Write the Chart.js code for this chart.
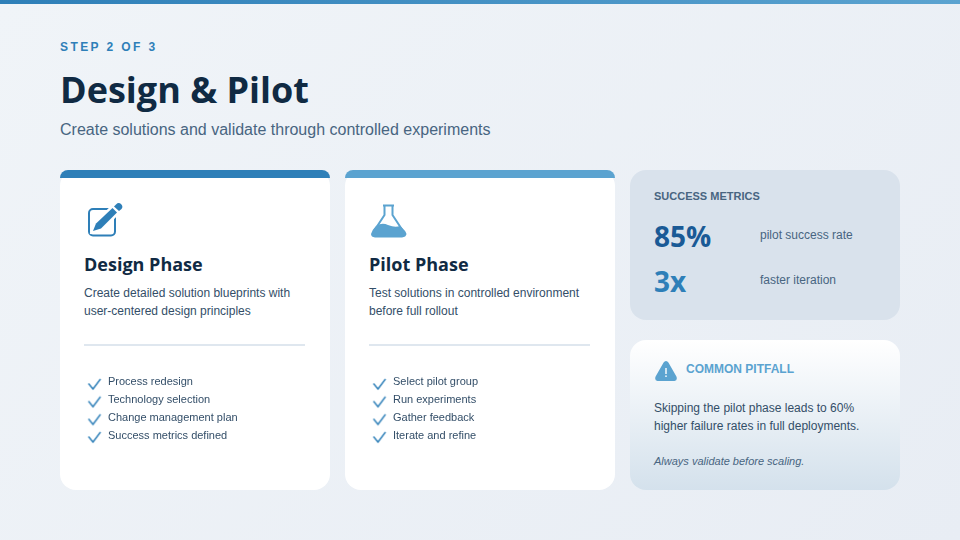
<!DOCTYPE html>
<html>
<head>
<meta charset="utf-8">
<script src="https://cdn.jsdelivr.net/npm/chart.js@4"></script>
<style>
* { margin: 0; padding: 0; box-sizing: border-box; }
body {
  width: 960px; height: 540px; overflow: hidden; position: relative;
  background: linear-gradient(135deg, #f0f4f8 0%, #e8edf4 100%);
  font-family: "Liberation Sans", sans-serif;
}
.abs { position: absolute; white-space: nowrap; }
#topbar { left: 0; top: 0; width: 960px; height: 4px; background: linear-gradient(90deg, #2e7fb8, #5ba3d0); }
#step { left: 60px; top: 40px; font-size: 12px; line-height: 14px; font-weight: bold; letter-spacing: 2.4px; color: #2e7fb8; }
#title { left: 60px; top: 65px; font: bold 36px/50px "Open Sans"; color: #102a43; }
#sub { left: 60px; top: 120px; font-size: 16px; line-height: 20px; color: #486581; }
.card { position: absolute; top: 170px; width: 270px; height: 320px; background: #fff; border-radius: 16px; }
.strip { position: absolute; left: 0; top: 0; width: 100%; height: 8px; border-radius: 8px 8px 0 0; }
.card h2 { position: absolute; left: 24px; top: 80px; font: bold 18px/28px "Open Sans"; color: #102a43; }
.card p { position: absolute; left: 24px; top: 114px; width: 240px; font-size: 12px; line-height: 18px; color: #334e68; }
.rule { position: absolute; left: 24px; top: 174px; width: 221px; height: 2px; background: #dfe7ef; }
.card svg { position: absolute; left: 24px; top: 30px; }
.card canvas { position: absolute; left: 24px; top: 189px; }
#metrics { left: 630px; top: 170px; width: 270px; height: 150px; background: #d9e2ec; border-radius: 16px; }
#mhead { left: 654px; top: 189px; font-size: 11px; line-height: 14px; font-weight: bold; color: #486581; }
.num { left: 654px; font: bold 28px/36px "Open Sans"; }
.lab { left: 760px; font-size: 12px; line-height: 16px; color: #486581; }
#pitfall { left: 630px; top: 340px; width: 270px; height: 150px; border-radius: 16px; background: linear-gradient(180deg, #ffffff 0%, #d4e1ec 100%); }
#phead { left: 686px; top: 362px; font-size: 12px; line-height: 14px; font-weight: bold; color: #5ba3d0; }
#ptext { left: 654px; top: 399px; font-size: 12px; line-height: 18px; color: #334e68; }
#pnote { left: 654px; top: 453px; font-size: 11px; line-height: 16px; font-style: italic; color: #486581; }
</style>
</head>
<body>
<div class="abs" id="topbar"></div>
<div class="abs" id="step">STEP 2 OF 3</div>
<div class="abs" id="title">Design &amp; Pilot</div>
<div class="abs" id="sub">Create solutions and validate through controlled experiments</div>

<div class="card" style="left:60px">
  <div class="strip" style="background:#2e7fb8"></div>
  <svg width="40" height="40" viewBox="0 0 40 40">
    <rect x="5" y="9" width="26" height="26.5" rx="4" fill="none" stroke="#2e7fb8" stroke-width="2"/>
    <path d="M8 32 L11 23 L28 7 L34 13 L18 29 Z" fill="#fff" stroke="#fff" stroke-width="3"/>
    <path d="M9 31 L12 23.5 L28.5 8 L33 12.5 L17 28.5 Z" fill="#2e7fb8"/>
    <path d="M30 6.5 L32 4.5 Q34.5 2 37 4 Q39.5 6.5 37.5 9 L35 11 Z" fill="#2e7fb8"/>
  </svg>
  <h2>Design Phase</h2>
  <p>Create detailed solution blueprints with<br>user-centered design principles</p>
  <div class="rule"></div>
  <canvas id="listDesign" width="221" height="100"></canvas>
</div>

<div class="card" style="left:345px">
  <div class="strip" style="background:#5ba3d0"></div>
  <svg width="40" height="40" viewBox="0 0 40 40">
    <path d="M14 5.5 H25 M15.5 5.5 V15 L5 31 M23.5 5.5 V15 L34 31" fill="none" stroke="#5ba3d0" stroke-width="2"/>
    <path d="M7 26 Q13 22 19 25 Q26 28 31 26 Q37 31 37.5 34 Q37 37 33 37.5 H6 Q2 37 2 34 Q3 30 7 26 Z" fill="#5ba3d0"/>
  </svg>
  <h2>Pilot Phase</h2>
  <p>Test solutions in controlled environment<br>before full rollout</p>
  <div class="rule"></div>
  <canvas id="listPilot" width="221" height="100"></canvas>
</div>

<div class="abs" id="metrics"></div>
<div class="abs" id="mhead">SUCCESS METRICS</div>
<div class="abs num" style="top:218px;color:#1a5a96">85%</div>
<div class="abs lab" style="top:227px">pilot success rate</div>
<div class="abs num" style="top:263px;color:#2e7fb8">3x</div>
<div class="abs lab" style="top:272px">faster iteration</div>

<div class="abs" id="pitfall"></div>
<svg class="abs" style="left:655px;top:360px" width="23" height="22" viewBox="0 0 23 22">
  <path d="M11 1 Q12.5 1 13.4 2.6 L21.4 16.5 Q22.8 20.5 19.5 21 H2.5 Q-0.8 20.5 0.6 16.5 L8.6 2.6 Q9.5 1 11 1 Z" fill="#5ba3d0"/>
  <rect x="10.3" y="8" width="1.4" height="6" fill="#fff"/>
  <rect x="10.3" y="15.4" width="1.4" height="1.6" fill="#fff"/>
</svg>
<div class="abs" id="phead">COMMON PITFALL</div>
<div class="abs" id="ptext">Skipping the pilot phase leads to 60%<br>higher failure rates in full deployments.</div>
<div class="abs" id="pnote">Always validate before scaling.</div>

<script>
const designItems = ["Process redesign", "Technology selection", "Change management plan", "Success metrics defined"];
const designDone = [1, 1, 1, 1];
const pilotItems = ["Select pilot group", "Run experiments", "Gather feedback", "Iterate and refine"];
const pilotDone = [1, 1, 1, 1];

// check mark used as the point style, sits a bit under the text line
function checkMark() {
  const c = document.createElement("canvas");
  c.width = 16;
  c.height = 21;
  const g = c.getContext("2d");
  g.strokeStyle = "#2e7fb8";
  g.lineWidth = 1.4;
  g.beginPath();
  g.moveTo(2, 11.5);
  g.lineTo(6.5, 17);
  g.lineTo(14, 7);
  g.stroke();
  return c;
}

function drawList(id, items, done) {
  new Chart(document.getElementById(id), {
    type: "line",
    data: {
      labels: items,
      datasets: [{ data: done, showLine: false, pointStyle: checkMark(), clip: false }]
    },
    options: {
      indexAxis: "y",
      responsive: false,
      animation: false,
      layout: { padding: 0 },
      plugins: { legend: { display: false }, tooltip: { enabled: false } },
      scales: {
        x: { display: false, min: 0, max: 2 },
        y: {
          offset: true,
          position: "right",
          grid: { display: false, drawTicks: false },
          border: { display: false },
          afterFit: function (scale) { scale.width = 205; },
          ticks: {
            padding: 8,
            crossAlign: "near",
            autoSkip: false,
            color: "#334e68",
            font: { family: "Liberation Sans", size: 11 }
          }
        }
      }
    }
  });
}

drawList("listDesign", designItems, designDone);
drawList("listPilot", pilotItems, pilotDone);
</script>
</body>
</html>
